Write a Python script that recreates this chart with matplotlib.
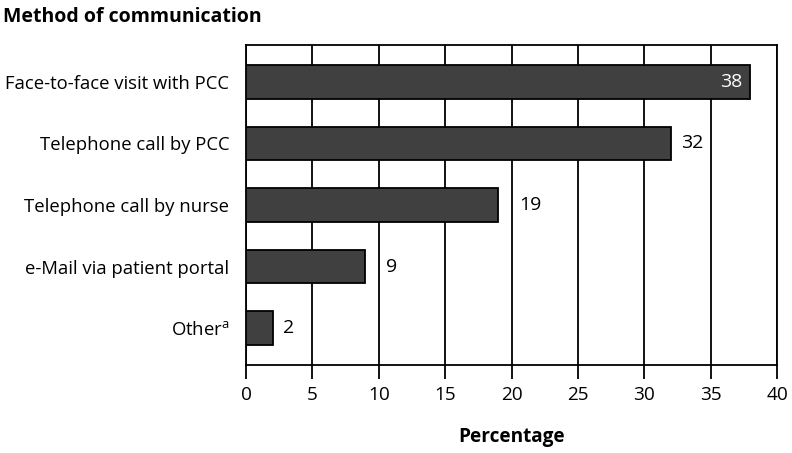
import numpy as np
import matplotlib as mpl
import matplotlib.pyplot as plt

# chart data
methods = ['Face-to-face visit with PCC', 'Telephone call by PCC',
           'Telephone call by nurse', 'e-Mail via patient portal',
           r'Other$^{\mathregular{a}}$']
percent = [38, 32, 19, 9, 2]
xticks = [0, 5, 10, 15, 20, 25, 30, 35, 40]

mpl.rcParams['font.family'] = 'Open Sans'
mpl.rcParams['mathtext.default'] = 'regular'

fig = plt.figure(figsize=(7.92, 4.53), dpi=100)
ax = fig.add_axes([0.3106, 0.1943, 0.6705, 0.7064])

y = np.arange(len(methods))
ax.barh(y, percent, height=0.55, color='#404040', edgecolor='black',
        linewidth=1.3, zorder=3)

for i, v in enumerate(percent):
    if v >= 35:
        ax.text(v - 0.6, i, str(v), color='white', fontsize=14,
                ha='right', va='center', zorder=4)
    else:
        # keep the label clear of the next gridline
        xpos = v + 0.75
        nxt = (v // 5 + 1) * 5
        if nxt - v < 2:
            xpos = nxt + 0.55
        ax.text(xpos, i, str(v), color='black', fontsize=14,
                ha='left', va='center', zorder=4)

ax.set_xlim(0, 40)
ax.set_ylim(4.6, -0.6)
ax.set_xticks(xticks)
ax.set_yticks(y)
ax.set_yticklabels(methods, fontsize=13.3)
ax.tick_params(axis='y', length=0, pad=12)
ax.tick_params(axis='x', length=10, width=1.3, labelsize=13.7, pad=5)
ax.xaxis.grid(True, color='black', linewidth=1.3, zorder=0)
for s in ax.spines.values():
    s.set_linewidth(1.3)

ax.set_xlabel('Percentage', fontsize=13.7, fontweight='bold', labelpad=17)
fig.text(0.004, 0.985, 'Method of communication', fontsize=14,
         fontweight='bold', ha='left', va='top')

fig.savefig('out.png', dpi=100)
